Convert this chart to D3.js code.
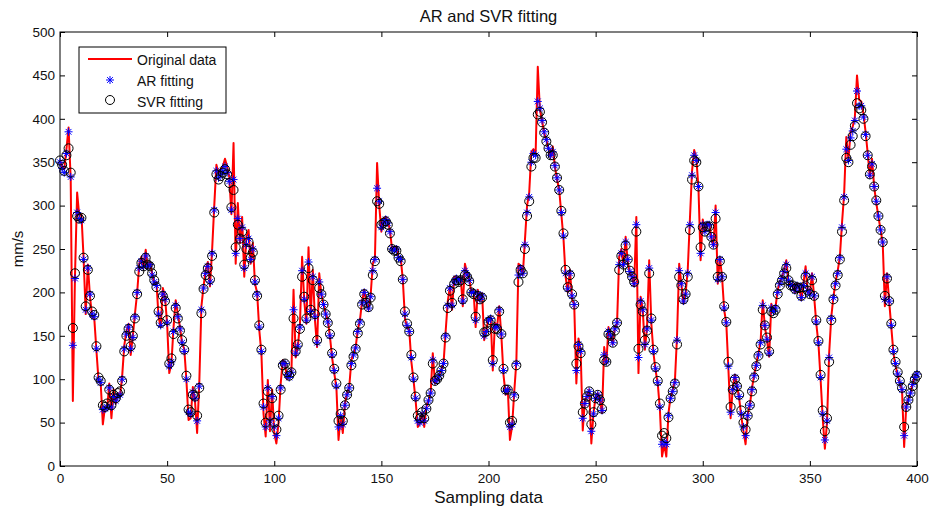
<!DOCTYPE html>
<html>
<head>
<meta charset="utf-8">
<script src="https://cdn.jsdelivr.net/npm/d3@7"></script>
<style>
  body { margin: 0; background: #fff; }
  svg text { font-family: "Liberation Sans", Arial, sans-serif; }
</style>
</head>
<body>
<div id="chart"></div>
<script>
// AR and SVR fitting chart

var xTicks = [0, 50, 100, 150, 200, 250, 300, 350, 400];
var yTicks = [0, 50, 100, 150, 200, 250, 300, 350, 400, 450, 500];
var legendLabels = ["Original data", "AR fitting", "SVR fitting"];

// original data, one value per sample (0..400)
var original = [
  352, 345, 342, 365, 390, 330, 75, 220, 315, 288,
  290, 240, 175, 232, 195, 172, 170, 133, 98, 95,
  48, 68, 66, 95, 55, 88, 72, 84, 80, 103,
  139, 155, 164, 128, 150, 176, 199, 233, 241, 228,
  249, 228, 235, 222, 210, 212, 172, 160, 205, 195,
  164, 107, 118, 160, 191, 175, 160, 141, 135, 99,
  53, 55, 91, 75, 38, 95, 184, 207, 226, 235,
  207, 249, 300, 347, 337, 342, 345, 354, 345, 333,
  290, 372, 233, 303, 257, 287, 218, 264, 272, 233,
  257, 210, 200, 157, 130, 60, 34, 99, 40, 88,
  38, 26, 50, 95, 122, 118, 100, 103, 107, 203,
  125, 137, 164, 241, 190, 164, 252, 172, 226, 168,
  137, 222, 197, 187, 176, 168, 149, 125, 107, 91,
  30, 58, 38, 72, 84, 91, 122, 130, 137, 157,
  168, 190, 203, 187, 180, 197, 233, 240, 349, 300,
  270, 284, 287, 282, 272, 249, 250, 253, 241, 240,
  215, 170, 160, 157, 120, 99, 75, 45, 49, 61,
  45, 68, 76, 84, 130, 95, 99, 105, 112, 118,
  155, 190, 207, 180, 218, 218, 214, 218, 184, 233,
  222, 216, 199, 203, 160, 203, 191, 199, 145, 157,
  170, 172, 110, 165, 160, 184, 150, 105, 82, 90,
  30, 45, 85, 120, 233, 230, 220, 260, 300, 315,
  362, 365, 360, 460, 410, 398, 383, 376, 365, 356,
  368, 345, 330, 318, 290, 262, 218, 200, 226, 192,
  187, 95, 147, 134, 41, 76, 80, 88, 26, 61,
  80, 84, 75, 61, 137, 118, 160, 150, 140, 160,
  164, 241, 250, 230, 264, 235, 222, 218, 207, 287,
  107, 195, 180, 134, 160, 237, 164, 130, 110, 95,
  65, 11, 25, 11, 61, 80, 88, 98, 150, 233,
  210, 187, 199, 226, 284, 340, 364, 355, 320, 237,
  284, 270, 280, 280, 262, 253, 300, 210, 240, 218,
  180, 164, 110, 55, 90, 105, 92, 78, 57, 40,
  25, 60, 70, 90, 105, 118, 130, 143, 191, 160,
  145, 126, 187, 178, 184, 203, 212, 218, 226, 237,
  212, 207, 210, 200, 210, 207, 191, 210, 230, 200,
  199, 222, 195, 164, 141, 100, 55, 20, 50, 130,
  172, 195, 212, 225, 241, 280, 314, 379, 353, 385,
  391, 402, 450, 422, 420, 406, 385, 360, 333, 354,
  322, 303, 287, 272, 257, 184, 222, 190, 160, 130,
  115, 105, 95, 88, 22, 70, 78, 84, 95, 103,
  107
];

var arFit = [
  350, 343, 338, 360, 385, 333, 139, 216, 292, 285,
  283, 238, 180, 228, 198, 175, 172, 135, 100, 96,
  65, 66, 68, 90, 68, 80, 75, 80, 82, 100,
  135, 152, 160, 135, 148, 172, 200, 228, 236, 230,
  242, 230, 232, 220, 212, 208, 175, 162, 198, 192,
  165, 115, 120, 155, 185, 172, 158, 142, 132, 100,
  62, 60, 85, 78, 52, 92, 180, 205, 222, 230,
  212, 245, 295, 340, 332, 336, 340, 345, 338, 328,
  295, 330, 245, 285, 262, 275, 228, 255, 262, 238,
  250, 212, 198, 160, 132, 68, 45, 90, 52, 80,
  45, 35, 55, 90, 118, 118, 105, 102, 108, 180,
  130, 138, 160, 225, 192, 168, 235, 178, 218, 172,
  142, 212, 198, 186, 175, 166, 150, 128, 110, 92,
  45, 58, 48, 70, 82, 90, 118, 128, 136, 155,
  166, 188, 200, 188, 182, 195, 225, 238, 320, 305,
  275, 280, 284, 280, 270, 250, 248, 250, 240, 238,
  215, 175, 162, 155, 125, 100, 78, 52, 50, 60,
  52, 66, 75, 84, 122, 98, 100, 104, 110, 118,
  150, 185, 205, 185, 212, 216, 213, 215, 190, 225,
  220, 214, 200, 200, 168, 198, 192, 196, 150, 155,
  168, 170, 118, 160, 160, 180, 152, 110, 86, 88,
  45, 48, 82, 118, 220, 228, 222, 255, 292, 310,
  350, 360, 358, 420, 412, 398, 385, 376, 366, 358,
  362, 346, 332, 318, 292, 265, 222, 204, 222, 196,
  186, 110, 140, 132, 55, 72, 80, 86, 40, 60,
  78, 82, 76, 64, 128, 120, 155, 150, 142, 158,
  165, 232, 245, 232, 258, 238, 224, 218, 210, 278,
  125, 190, 180, 140, 158, 228, 168, 132, 112, 96,
  68, 25, 28, 25, 58, 78, 86, 96, 145, 225,
  210, 190, 198, 222, 278, 335, 358, 352, 322, 245,
  278, 270, 278, 278, 264, 255, 292, 215, 238, 218,
  182, 165, 115, 62, 88, 102, 92, 80, 60, 45,
  35, 58, 70, 88, 104, 116, 128, 142, 185, 162,
  146, 130, 182, 178, 182, 200, 210, 216, 224, 232,
  214, 208, 208, 202, 208, 206, 194, 208, 222, 202,
  198, 218, 196, 166, 142, 102, 60, 30, 52, 125,
  170, 194, 210, 222, 240, 275, 310, 365, 352, 378,
  386, 398, 432, 415, 415, 402, 382, 358, 335, 348,
  322, 305, 288, 272, 258, 192, 218, 190, 162, 132,
  118, 106, 96, 88, 35, 68, 76, 84, 94, 102,
  106
];

var svrFit = [
  352, 347, 340, 358, 366, 338, 159, 222, 288, 285,
  286, 240, 184, 226, 196, 178, 174, 138, 102, 98,
  70, 68, 72, 88, 70, 82, 78, 84, 86, 98,
  132, 150, 158, 138, 150, 170, 198, 224, 234, 230,
  240, 232, 230, 222, 214, 206, 178, 165, 196, 190,
  168, 118, 124, 152, 182, 170, 156, 145, 134, 104,
  65, 62, 82, 80, 58, 90, 176, 204, 220, 228,
  215, 242, 292, 336, 330, 334, 338, 342, 336, 326,
  298, 318, 252, 278, 262, 270, 232, 250, 258, 240,
  246, 214, 196, 162, 134, 72, 50, 86, 58, 78,
  50, 42, 58, 88, 116, 118, 108, 104, 108, 170,
  132, 140, 158, 218, 195, 170, 228, 180, 214, 175,
  145, 205, 198, 186, 175, 165, 152, 130, 112, 95,
  52, 60, 52, 70, 82, 90, 116, 126, 135, 153,
  164, 186, 198, 188, 183, 194, 220, 236, 305, 302,
  278, 280, 282, 278, 268, 250, 248, 248, 240, 236,
  215, 178, 164, 155, 128, 102, 80, 58, 55, 62,
  55, 66, 76, 84, 118, 98, 100, 104, 110, 118,
  148, 182, 202, 188, 210, 214, 212, 214, 192, 220,
  218, 213, 200, 198, 172, 196, 192, 194, 154, 155,
  166, 168, 122, 158, 158, 178, 152, 112, 88, 88,
  50, 52, 80, 116, 212, 226, 222, 250, 288, 305,
  345, 355, 355, 405, 408, 396, 384, 374, 366, 358,
  358, 345, 332, 318, 294, 268, 226, 206, 220, 198,
  186, 118, 138, 130, 62, 72, 80, 86, 48, 62,
  78, 82, 76, 66, 122, 120, 152, 150, 142, 156,
  165, 226, 242, 232, 254, 238, 225, 218, 212, 270,
  135, 186, 178, 145, 156, 222, 170, 134, 114, 98,
  72, 35, 38, 32, 56, 78, 86, 95, 140, 218,
  208, 192, 198, 218, 272, 330, 352, 350, 322, 252,
  275, 270, 276, 276, 264, 255, 285, 218, 236, 218,
  184, 166, 120, 68, 88, 100, 92, 82, 64, 50,
  42, 58, 70, 86, 102, 115, 127, 140, 180, 162,
  148, 132, 178, 176, 180, 198, 208, 214, 222, 228,
  214, 208, 208, 204, 206, 205, 196, 206, 218, 202,
  198, 214, 196, 168, 144, 105, 64, 40, 55, 120,
  168, 192, 208, 220, 238, 270, 306, 355, 350, 370,
  380, 392, 418, 412, 410, 400, 380, 358, 336, 345,
  322, 306, 288, 272, 258, 196, 216, 190, 164, 134,
  120, 108, 98, 90, 45, 68, 76, 84, 92, 100,
  104
];

var width = 930, height = 512;
var plotLeft = 60, plotRight = 917, plotTop = 32, plotBottom = 466;

var svg = d3.select("#chart").append("svg")
    .attr("width", width)
    .attr("height", height);

var x = d3.scaleLinear().domain([0, 400]).range([plotLeft, plotRight]);
var y = d3.scaleLinear().domain([0, 500]).range([plotBottom, plotTop]);

// axes, MATLAB style: ticks pointing inward on all four sides
svg.append("g")
    .attr("transform", "translate(0," + plotBottom + ")")
    .call(d3.axisBottom(x).tickValues(xTicks).tickSizeInner(-5).tickSizeOuter(0).tickPadding(7))
    .call(function(g) { g.select(".domain").remove(); });

svg.append("g")
    .attr("transform", "translate(0," + plotTop + ")")
    .call(d3.axisTop(x).tickValues(xTicks).tickSizeInner(-5).tickSizeOuter(0).tickFormat(""))
    .call(function(g) { g.select(".domain").remove(); });

svg.append("g")
    .attr("transform", "translate(" + plotLeft + ",0)")
    .call(d3.axisLeft(y).tickValues(yTicks).tickSizeInner(-5).tickSizeOuter(0).tickPadding(5))
    .call(function(g) { g.select(".domain").remove(); });

svg.append("g")
    .attr("transform", "translate(" + plotRight + ",0)")
    .call(d3.axisRight(y).tickValues(yTicks).tickSizeInner(-5).tickSizeOuter(0).tickFormat(""))
    .call(function(g) { g.select(".domain").remove(); });

svg.selectAll(".tick line").attr("stroke", "#000");
svg.selectAll(".tick text")
    .attr("font-size", 13.5)
    .attr("fill", "#111")
    .style("font-family", "'Liberation Sans', Arial, sans-serif");

svg.append("rect")
    .attr("x", plotLeft).attr("y", plotTop)
    .attr("width", plotRight - plotLeft).attr("height", plotBottom - plotTop)
    .attr("fill", "none").attr("stroke", "#000").attr("stroke-width", 1);

// original data line
var line = d3.line()
    .x(function(d, i) { return x(i); })
    .y(function(d) { return y(d); });

svg.append("path")
    .datum(original)
    .attr("d", line)
    .attr("fill", "none")
    .attr("stroke", "#ff0000")
    .attr("stroke-width", 2)
    .attr("stroke-linejoin", "round");

// asterisk marker path
function star(cx, cy, r) {
    var a = r * 0.72;
    return "M" + (cx - r) + "," + cy + "L" + (cx + r) + "," + cy +
        "M" + cx + "," + (cy - r) + "L" + cx + "," + (cy + r) +
        "M" + (cx - a) + "," + (cy - a) + "L" + (cx + a) + "," + (cy + a) +
        "M" + (cx - a) + "," + (cy + a) + "L" + (cx + a) + "," + (cy - a);
}

svg.append("g").selectAll("path")
    .data(arFit)
    .enter().append("path")
    .attr("d", function(d, i) { return star(x(i), y(d), 4); })
    .attr("stroke", "#0000ff")
    .attr("stroke-width", 1)
    .attr("fill", "none");

svg.append("g").selectAll("circle")
    .data(svrFit)
    .enter().append("circle")
    .attr("cx", function(d, i) { return x(i); })
    .attr("cy", function(d) { return y(d); })
    .attr("r", 4.5)
    .attr("fill", "none")
    .attr("stroke", "#000")
    .attr("stroke-width", 1);

// title and axis labels
svg.append("text")
    .attr("x", (plotLeft + plotRight) / 2).attr("y", 22)
    .attr("text-anchor", "middle")
    .attr("font-size", 16.5)
    .attr("fill", "#111")
    .text("AR and SVR fitting");

svg.append("text")
    .attr("x", (plotLeft + plotRight) / 2).attr("y", 503)
    .attr("text-anchor", "middle")
    .attr("font-size", 17)
    .attr("fill", "#111")
    .text("Sampling data");

svg.append("text")
    .attr("transform", "translate(23," + ((plotTop + plotBottom) / 2) + ") rotate(-90)")
    .attr("text-anchor", "middle")
    .attr("font-size", 15)
    .attr("fill", "#111")
    .text("mm/s");

// legend
var legend = svg.append("g");
legend.append("rect")
    .attr("x", 79).attr("y", 47)
    .attr("width", 147).attr("height", 66)
    .attr("fill", "#fff").attr("stroke", "#000");

legend.append("line")
    .attr("x1", 88).attr("x2", 132)
    .attr("y1", 59).attr("y2", 59)
    .attr("stroke", "#ff0000").attr("stroke-width", 2);
legend.append("path")
    .attr("d", star(110, 80, 4))
    .attr("stroke", "#0000ff").attr("fill", "none");
legend.append("circle")
    .attr("cx", 110).attr("cy", 100).attr("r", 4.5)
    .attr("stroke", "#000").attr("fill", "none");

legend.selectAll("text")
    .data(legendLabels)
    .enter().append("text")
    .attr("x", 137)
    .attr("y", function(d, i) { return 64.5 + i * 21; })
    .attr("font-size", 14)
    .attr("fill", "#111")
    .text(function(d) { return d; });
</script>
</body>
</html>
